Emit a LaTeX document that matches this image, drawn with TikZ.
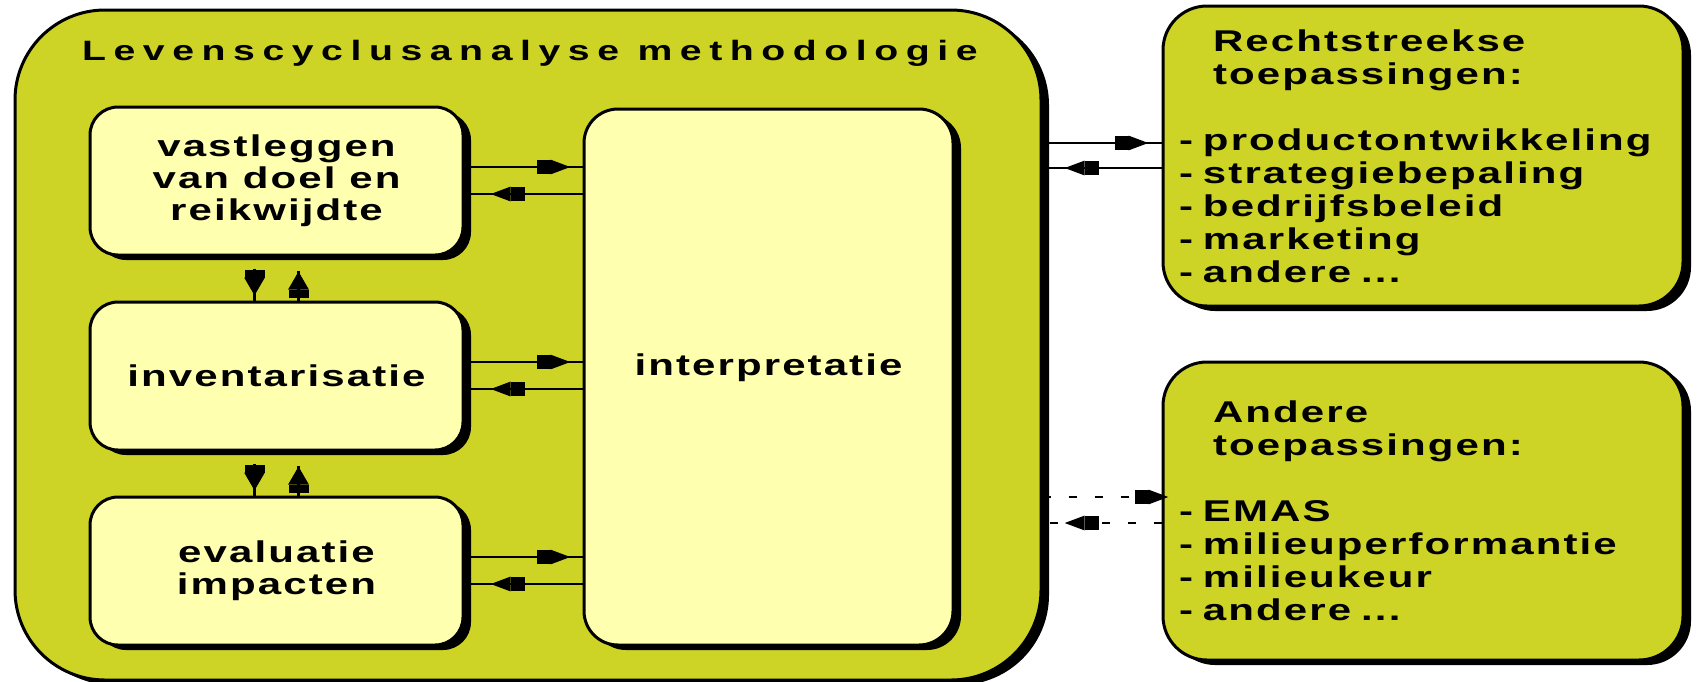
\documentclass[tikz,border=0pt]{standalone}
\usepackage{fontspec}
\setmainfont{Liberation Sans}[FakeStretch=1.4,LetterSpace=7]
\usetikzlibrary{arrows.meta,shadows,decorations.markings}

\definecolor{lcaolive}{RGB}{206,212,38}
\definecolor{paleyellow}{RGB}{255,255,176}

\begin{document}
\begin{tikzpicture}[x=0.5pt,y=-0.5pt,
        >={Square[length=7pt,width=7pt]Triangle[length=10pt,width=7pt]},
        box/.style={draw=black,line width=1.5pt,
            drop shadow={shadow xshift=4pt,shadow yshift=-2.5pt,opacity=1,fill=black}},
        stage/.style={box,fill=paleyellow,rounded corners=14pt,minimum width=186.5pt,
            minimum height=74pt,align=center,font=\bfseries\fontsize{15}{16}\selectfont},
        usebox/.style={box,fill=lcaolive,rounded corners=22pt,minimum width=260pt,
            text width=244pt,inner sep=8pt,align=left,font=\bfseries\fontsize{15}{16.5}\selectfont},
        conn/.style={line width=1.4pt,postaction={decorate},
            decoration={markings,mark=at position #1 with {\arrow{>}}}},
        conn/.default=-6pt,
        vconn/.style={conn=#1,>={Square[length=4pt,width=10pt]Triangle[length=9pt,width=10pt]}},
        dotconn/.style={conn=#1,dash pattern=on 4pt off 9pt},
        dotconn/.default=-6pt]
    \useasboundingbox (0,0) rectangle (1702,681);

    % methodology frame
    \node[box,fill=lcaolive,rounded corners=45pt,minimum width=513pt,minimum height=335pt] (lca) at (528,345) {};
    \node[anchor=base west,font=\bfseries\fontsize{14}{16}\selectfont\addfontfeature{LetterSpace=27}] (lcatitle) at (75,60) {Levenscyclusanalyse methodologie};

    \node[stage] (doel) at (276.5,181) {vastleggen\\van doel en\\reikwijdte};
    \node[stage] (inv) at (276.5,376) {inventarisatie};
    \node[stage] (eval) at (276.5,571) {evaluatie\\impacten};
    \node[stage,rounded corners=17pt,minimum width=184.5pt,minimum height=268pt,text depth=12pt] (interp) at (768.5,377) {interpretatie};

    % applications
    \node[usebox,minimum height=150pt] (direct) at (1423,156) {\hspace*{17pt}Rechtstreekse\\\hspace*{17pt}toepassingen:\\[16.5pt]
        - productontwikkeling\\- strategiebepaling\\- bedrijfsbeleid\\- marketing\\- andere ...};
    \node[usebox,minimum height=149pt] (other) at (1423,511) {\hspace*{17pt}Andere\\\hspace*{17pt}toepassingen:\\[16.5pt]
        - EMAS\\- milieuperformantie\\- milieukeur\\- andere ...};

    \foreach \s in {doel,inv,eval} {
        \draw[conn] ([yshift=7pt]\s.east) -- ([yshift=7pt]\s.east -| interp.west);
        \draw[conn=-13pt] ([yshift=-6.5pt]\s.east -| interp.west) -- ([yshift=-6.5pt]\s.east);
    }

    \draw[vconn=-2.5pt] ([xshift=-11pt,yshift=-6pt]doel.south) -- ([xshift=-11pt]inv.north);
    \draw[vconn=-0.5pt] ([xshift=11pt]inv.north) -- ([xshift=11pt,yshift=-7pt]doel.south);
    \draw[vconn=-2.5pt] ([xshift=-11pt,yshift=-6pt]inv.south) -- ([xshift=-11pt]eval.north);
    \draw[vconn=-0.5pt] ([xshift=11pt]eval.north) -- ([xshift=11pt,yshift=-7pt]inv.south);

    \draw[conn=-6.5pt] ([yshift=6.5pt]direct.west -| lca.east) -- ([yshift=6.5pt]direct.west);
    \draw[conn=-11pt] ([yshift=-6pt]direct.west) -- ([yshift=-6pt]direct.west -| lca.east);
    \draw[dotconn=-0.5pt] ([yshift=7pt]other.west -| lca.east) -- ([xshift=4pt,yshift=7pt]other.west);
    \draw[dotconn=-11pt] ([yshift=-6pt]other.west) -- ([yshift=-6pt]other.west -| lca.east);
\end{tikzpicture}
\end{document}
